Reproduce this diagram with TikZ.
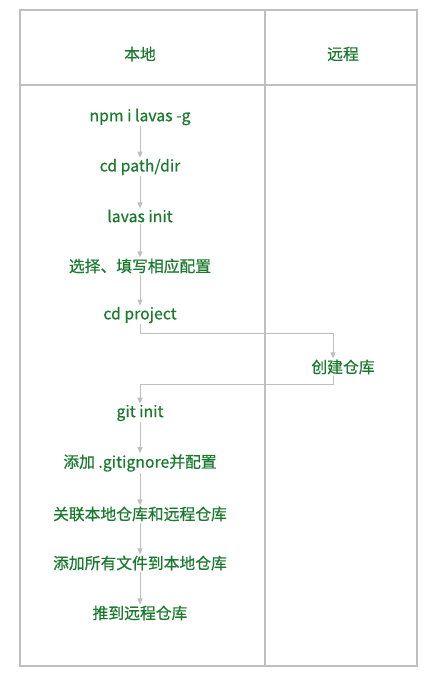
\documentclass[tikz,border=0pt]{standalone}
\usepackage{fontspec}
\setmainfont{Noto Sans CJK SC}[FakeBold=0.6]
\usetikzlibrary{arrows.meta}
\definecolor{stepgreen}{HTML}{1B7A2E}
\definecolor{linegray}{HTML}{BFBFBF}

\begin{document}
\begin{tikzpicture}[x=1pt,y=-1pt,
    stepnode/.style={text=stepgreen, font=\fontsize{15.8}{18}\selectfont, inner sep=1pt},
    flow/.style={draw=linegray, line width=0.9pt, -{Triangle[length=6pt,width=5pt]}}]
    \useasboundingbox (0,0) rectangle (433,686);

    % Lanes
    \def\lx{140}
    \def\rx{343}
    \draw[linegray, line width=2pt] (20,10) rectangle (417,666);
    \draw[linegray, line width=2pt] (265,10) -- (265,666);
    \draw[linegray, line width=2pt] (20,85) -- (417,85);

    \node[stepnode] (local) at (\lx,54) {本地};
    \node[stepnode] (remote) at (\rx,54) {远程};

    % Local steps
    \node[stepnode] (npm) at (\lx,117) {npm i lavas -g};
    \node[stepnode] (cdpath) at (\lx,167) {cd path/dir};
    \node[stepnode] (init) at (\lx,216) {lavas init};
    \node[stepnode] (config) at (\lx,266) {选择、填写相应配置};
    \node[stepnode] (cdproj) at (\lx,315) {cd project};

    % Remote step
    \node[stepnode] (repo) at (\rx,367) {创建仓库};

    % Git steps
    \node[stepnode] (gitinit) at (\lx,413) {git init};
    \node[stepnode] (ignore) at (\lx,463) {添加 .gitignore并配置};
    \node[stepnode] (link) at (\lx,514) {关联本地仓库和远程仓库};
    \node[stepnode] (addall) at (\lx,563) {添加所有文件到本地仓库};
    \node[stepnode] (push) at (\lx,613) {推到远程仓库};

    % Arrows
    \draw[flow] (npm) -- (cdpath);
    \draw[flow] (cdpath) -- (init);
    \draw[flow] (init) -- (config);
    \draw[flow] (config) -- (cdproj);
    \draw[flow] (cdproj.south) -- ++(0,9) -| ([xshift=-10pt]repo.north);
    \draw[flow] ([xshift=-10pt]repo.south) -- ++(0,9) -| (gitinit.north);
    \draw[flow] (gitinit) -- (ignore);
    \draw[flow] (ignore) -- (link);
    \draw[flow] (link) -- (addall);
    \draw[flow] (addall) -- (push);
\end{tikzpicture}
\end{document}
